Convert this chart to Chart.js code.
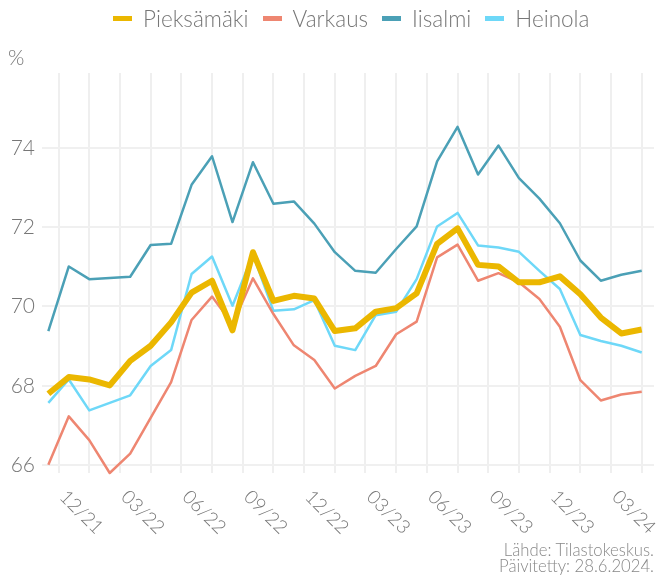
<!DOCTYPE html>
<html>
<head>
<meta charset="utf-8">
<script src="https://cdn.jsdelivr.net/npm/chart.js@4.4.1/dist/chart.umd.min.js"></script>
<style>
  body { margin: 0; background: #fff; font-family: Lato, "Open Sans", sans-serif; }
  #wrap { position: relative; width: 660px; height: 581px; }
  #legend { position: absolute; left: 113px; top: 4px; height: 28px; display: flex; align-items: center;
            font-size: 22.5px; font-weight: 300; color: #777; white-space: nowrap; }
  #legend .item { display: flex; align-items: center; margin-right: 14px; }
  #legend .sw { width: 19px; height: 5px; margin-right: 11px; }
  #pct { position: absolute; left: 8px; top: 44px; font-size: 21px; font-weight: 300; color: #777; }
  #note { position: absolute; right: 6px; top: 542px; text-align: right; font-size: 16.7px; line-height: 16px;
          font-weight: 300; color: #888; }
</style>
</head>
<body>
<div id="wrap">
  <canvas id="chart" width="660" height="581"></canvas>
  <div id="legend"></div>
  <div id="pct">%</div>
  <div id="note">Lähde: Tilastokeskus.<br>Päivitetty: 28.6.2024.</div>
</div>
<script>
var months = ['11/21', '12/21',
  '01/22', '02/22', '03/22', '04/22', '05/22', '06/22', '07/22', '08/22', '09/22', '10/22', '11/22', '12/22',
  '01/23', '02/23', '03/23', '04/23', '05/23', '06/23', '07/23', '08/23', '09/23', '10/23', '11/23', '12/23',
  '01/24', '02/24', '03/24', '04/24'];
var tickLabels = ['12/21', '03/22', '06/22', '09/22', '12/22', '03/23', '06/23', '09/23', '12/23', '03/24'];

var pieksamaki = [67.80, 68.22, 68.16, 68.01, 68.63, 69.01, 69.60, 70.35, 70.65, 69.40,
                  71.37, 70.14, 70.27, 70.20, 69.38, 69.45, 69.87, 69.96, 70.33, 71.58,
                  71.97, 71.05, 71.01, 70.61, 70.61, 70.76, 70.31, 69.72, 69.32, 69.42];
var varkaus    = [66.01, 67.23, 66.63, 65.80, 66.29, 67.19, 68.09, 69.66, 70.25, 69.55,
                  70.71, 69.81, 69.02, 68.65, 67.93, 68.25, 68.50, 69.30, 69.62, 71.24,
                  71.56, 70.65, 70.84, 70.61, 70.19, 69.49, 68.14, 67.63, 67.78, 67.85];
var iisalmi    = [69.38, 71.01, 70.69, 70.72, 70.75, 71.55, 71.58, 73.07, 73.79, 72.13,
                  73.64, 72.59, 72.65, 72.09, 71.37, 70.90, 70.85, 71.45, 72.02, 73.66,
                  74.53, 73.33, 74.06, 73.24, 72.72, 72.10, 71.16, 70.65, 70.80, 70.90];
var heinola    = [67.57, 68.16, 67.38, 67.57, 67.76, 68.50, 68.90, 70.82, 71.26, 70.02,
                  71.31, 69.89, 69.93, 70.16, 69.01, 68.90, 69.78, 69.87, 70.69, 72.02,
                  72.36, 71.54, 71.49, 71.38, 70.90, 70.44, 69.28, 69.13, 69.01, 68.84];
var yTicks = [66, 68, 70, 72, 74];

var series = [
  { name: 'Pieksämäki', values: pieksamaki, color: '#EBB700', width: 6 },
  { name: 'Varkaus', values: varkaus, color: '#EE8671', width: 2.5 },
  { name: 'Iisalmi', values: iisalmi, color: '#4BA0B6', width: 2.5 },
  { name: 'Heinola', values: heinola, color: '#6ED8F8', width: 2.5 }
];

// pystyviivat 1,5 kk välein: kuukauden alku ja puolivälissä seuraavaan
var gridVals = [];
tickLabels.forEach(function(lab) {
  var v = months.indexOf(lab) - 0.5;
  gridVals.push(v, v + 1.5);
});

var legend = document.getElementById('legend');
series.forEach(function(s) {
  legend.innerHTML += '<div class="item"><div class="sw" style="background:' + s.color + '"></div>' + s.name + '</div>';
});

var xLabels = {
  id: 'xLabels',
  afterDraw: function(chart) {
    var ctx = chart.ctx, x = chart.scales.x, bottom = chart.chartArea.bottom;
    ctx.save();
    ctx.font = '300 19px Lato';
    ctx.fillStyle = '#777';
    ctx.textAlign = 'left';
    ctx.textBaseline = 'top';
    tickLabels.forEach(function(lab) {
      var px = x.getPixelForValue(months.indexOf(lab) - 0.5);
      ctx.save();
      ctx.translate(px + 11, bottom + 14);
      ctx.rotate(Math.PI / 4);
      ctx.fillText(lab, 0, 0);
      ctx.restore();
    });
    ctx.restore();
  }
};

new Chart(document.getElementById('chart'), {
  type: 'line',
  data: {
    datasets: series.map(function(s) {
      return {
        label: s.name,
        data: s.values.map(function(v, i) { return { x: i, y: v }; }),
        borderColor: s.color,
        backgroundColor: s.color,
        borderWidth: s.width,
        borderJoinStyle: 'round',
        pointRadius: 0,
        tension: 0,
        clip: false
      };
    })
  },
  options: {
    responsive: false,
    animation: false,
    layout: { padding: { top: 73, right: 6, left: 0, bottom: 0 } },
    plugins: { legend: { display: false }, tooltip: { enabled: false } },
    scales: {
      x: {
        type: 'linear',
        min: -0.31,
        max: 29.6,
        afterBuildTicks: function(scale) {
          scale.ticks = gridVals.map(function(v) { return { value: v }; });
        },
        afterFit: function(scale) { scale.height = 108; },
        grid: { color: '#efefef', lineWidth: 2, drawTicks: false },
        border: { display: false },
        ticks: { display: false }
      },
      y: {
        min: 65.8,
        max: 75.89,
        afterBuildTicks: function(scale) {
          scale.ticks = yTicks.map(function(v) { return { value: v }; });
        },
        afterFit: function(scale) { scale.width = 42; },
        grid: { color: '#f0f0f0', lineWidth: 2, drawTicks: false },
        border: { display: false },
        ticks: { color: '#777', padding: 7, font: { family: 'Lato', size: 21, weight: '300' } }
      }
    }
  },
  plugins: [xLabels]
});
</script>
</body>
</html>
